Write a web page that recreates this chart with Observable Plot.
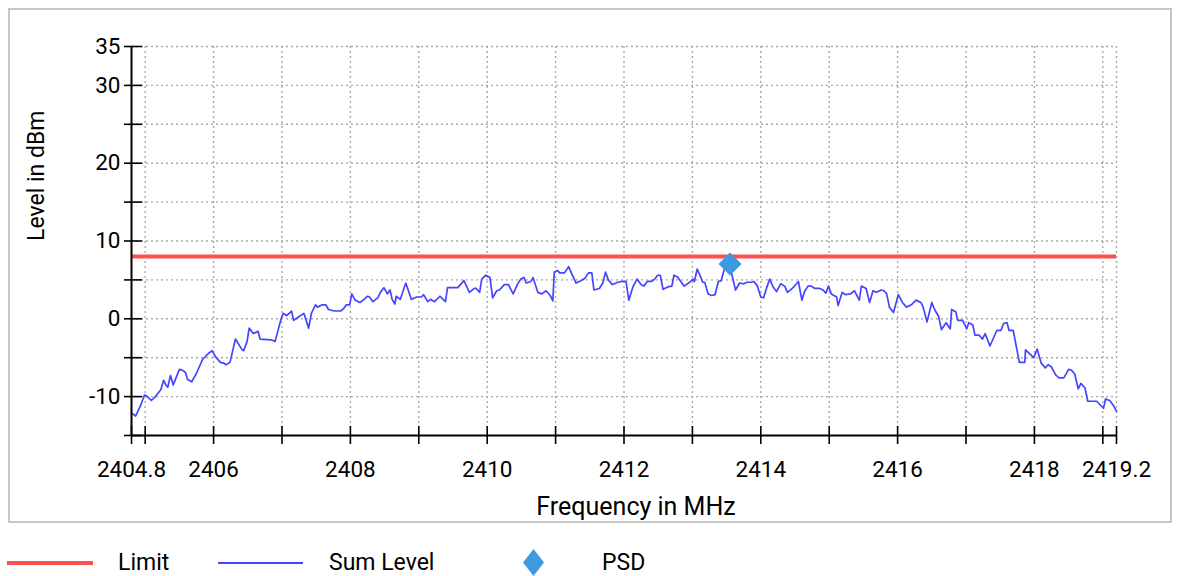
<!DOCTYPE html>
<html>
<head>
<meta charset="utf-8">
<script src="https://cdn.jsdelivr.net/npm/d3@7"></script>
<script src="https://cdn.jsdelivr.net/npm/@observablehq/plot@0.6"></script>
<style>
  html, body { margin: 0; padding: 0; background: #fff; }
  body { width: 1181px; height: 576px; position: relative; overflow: hidden; font-family: Roboto, "Liberation Sans", Arial, sans-serif; }
  #frame { position: absolute; left: 8px; top: 8px; width: 1160px; height: 511px; border: 2px solid #c6c6c6; }
  .lg { position: absolute; }
  .lgtext { position: absolute; top: 549px; line-height: 28px; font-size: 23px; color: #000; white-space: nowrap; }
</style>
</head>
<body>
<div id="frame"></div>
<div class="lg" style="left:7px; top:561px; width:86px; height:4px; background:#ff4f4f;"></div>
<div class="lgtext" style="left:118px;">Limit</div>
<div class="lg" style="left:218px; top:562px; width:85px; height:2px; background:#4545ff;"></div>
<div class="lgtext" style="left:329px;">Sum Level</div>
<svg class="lg" style="left:523px; top:549px;" width="21" height="27"><polygon points="10.5,0 21,13.5 10.5,27 0,13.5" fill="#3c9ae0"/></svg>
<div class="lgtext" style="left:602px;">PSD</div>
<script>
// ---- data ----
const freq = [
2404.80,2404.86,2404.93,2404.99,2405.02,2405.09,2405.16,2405.23,2405.27,2405.30,
2405.33,2405.37,2405.41,2405.50,2405.54,2405.59,2405.62,2405.68,2405.75,2405.84,
2405.93,2405.98,2406.03,2406.10,2406.15,2406.18,2406.24,2406.32,2406.41,2406.44,
2406.49,2406.52,2406.58,2406.65,2406.68,2406.84,2406.90,2406.99,2407.02,2407.07,
2407.14,2407.17,2407.25,2407.32,2407.39,2407.43,2407.49,2407.52,2407.59,2407.64,
2407.68,2407.76,2407.86,2407.90,2407.94,2407.99,2408.02,2408.07,2408.14,2408.20,
2408.25,2408.28,2408.33,2408.40,2408.44,2408.49,2408.54,2408.58,2408.61,2408.65,
2408.67,2408.73,2408.81,2408.89,2408.97,2409.04,2409.07,2409.13,2409.17,2409.23,
2409.31,2409.39,2409.42,2409.57,2409.66,2409.74,2409.81,2409.84,2409.89,2409.92,
2409.98,2410.04,2410.08,2410.14,2410.18,2410.25,2410.31,2410.38,2410.44,2410.49,
2410.54,2410.57,2410.64,2410.67,2410.74,2410.80,2410.86,2410.92,2410.96,2410.98,
2411.03,2411.06,2411.13,2411.19,2411.24,2411.30,2411.37,2411.43,2411.48,2411.53,
2411.56,2411.64,2411.69,2411.73,2411.77,2411.83,2411.91,2411.97,2412.03,2412.07,
2412.13,2412.19,2412.25,2412.29,2412.34,2412.40,2412.45,2412.49,2412.53,2412.57,
2412.64,2412.70,2412.73,2412.78,2412.83,2412.88,2412.96,2413.01,2413.03,2413.07,
2413.12,2413.15,2413.18,2413.23,2413.28,2413.33,2413.38,2413.42,2413.47,2413.55,
2413.63,2413.69,2413.75,2413.80,2413.86,2413.90,2413.95,2414.00,2414.04,2414.09,
2414.13,2414.18,2414.23,2414.29,2414.35,2414.39,2414.46,2414.55,2414.60,2414.64,
2414.69,2414.74,2414.79,2414.86,2414.91,2414.95,2414.99,2415.03,2415.11,2415.13,
2415.19,2415.24,2415.31,2415.37,2415.44,2415.47,2415.54,2415.59,2415.64,2415.69,
2415.76,2415.80,2415.84,2415.88,2415.94,2416.01,2416.07,2416.13,2416.20,2416.27,
2416.34,2416.37,2416.43,2416.50,2416.54,2416.60,2416.64,2416.71,2416.77,2416.79,
2416.85,2416.88,2416.95,2417.01,2417.04,2417.10,2417.13,2417.19,2417.24,2417.28,
2417.35,2417.45,2417.51,2417.55,2417.60,2417.63,2417.69,2417.78,2417.86,2417.87,
2417.99,2418.04,2418.10,2418.16,2418.20,2418.25,2418.31,2418.36,2418.43,2418.50,
2418.54,2418.59,2418.64,2418.68,2418.74,2418.78,2418.91,2419.01,2419.04,2419.10,
2419.16,2419.20
];
const level = [
-12.1,-12.5,-11.2,-9.8,-9.9,-10.5,-9.9,-9.1,-7.9,-8.5,
-8.8,-7.3,-8.5,-6.5,-6.6,-6.9,-7.8,-8.1,-7.0,-5.2,
-4.4,-4.1,-4.9,-5.6,-5.7,-5.9,-5.6,-2.6,-3.9,-4.1,
-2.9,-1.2,-1.9,-1.6,-2.6,-2.7,-2.9,0.1,0.7,0.4,
1.0,-0.2,0.3,0.7,-1.2,0.7,1.8,1.5,1.8,1.8,
1.2,1.0,1.0,1.3,1.8,1.8,3.2,2.4,2.1,2.5,
2.9,2.8,2.2,2.7,3.4,4.0,3.2,3.7,2.5,1.9,
2.9,2.5,4.6,2.5,2.8,2.8,3.1,2.2,2.5,2.2,
2.9,2.2,4.0,4.0,4.9,3.4,3.9,3.9,3.4,5.1,
5.6,5.3,2.7,3.6,3.7,4.4,4.4,3.2,4.4,5.1,
5.3,4.6,4.8,5.3,3.4,3.2,3.6,3.0,2.3,6.0,
6.2,5.9,5.9,6.7,5.7,4.6,4.9,5.2,5.9,5.9,
3.7,3.9,4.6,6.0,5.0,4.4,4.7,4.8,4.8,2.4,
4.1,5.1,4.4,4.2,4.8,4.8,5.1,5.6,5.6,3.8,
4.1,4.2,5.6,5.4,4.8,4.2,4.7,5.1,4.8,6.4,
5.4,4.7,4.7,3.2,3.0,3.1,4.8,4.9,6.5,6.7,
3.7,4.6,4.5,4.7,4.7,4.8,4.2,2.8,2.7,4.1,
5.1,4.1,3.5,4.5,4.2,3.4,3.9,4.8,2.4,3.5,
4.2,4.2,3.9,3.9,3.7,3.3,4.2,3.2,2.8,1.7,
3.4,3.1,3.2,3.6,2.4,4.2,3.9,2.1,3.6,3.4,
3.7,3.6,3.2,1.5,0.8,3.1,2.1,1.5,1.8,2.4,
2.1,1.6,-0.4,2.1,1.2,0.3,-1.4,-0.5,-1.3,1.2,
0.9,-0.2,-0.2,-1.3,-0.5,-0.8,-2.1,-2.1,-2.6,-1.9,
-3.5,-1.5,-1.5,-0.6,-0.5,-1.5,-1.5,-5.6,-5.6,-4.0,
-5.0,-3.9,-5.7,-6.3,-5.9,-6.2,-7.2,-7.6,-7.6,-6.5,
-6.6,-7.1,-9.0,-8.3,-8.9,-10.6,-10.6,-11.5,-10.3,-10.5,
-11.2,-11.9
];
const limitLevel = [8];
const psdFreq = [2413.55];
const psdLevel = [7.05];
const xTicks = [2404.8,2405,2406,2407,2408,2409,2410,2411,2412,2413,2414,2415,2416,2417,2418,2419,2419.2];
const xLabels = [2404.8,2406,2408,2410,2412,2414,2416,2418,2419.2];
const xGrid = [2405,2406,2407,2408,2409,2410,2411,2412,2413,2414,2415,2416,2417,2418,2419,2419.2];
const yTicks = [-15,-10,-5,0,5,10,15,20,25,30,35];
const yLabels = [-10,0,10,20,30,35];
const yGrid = [-10,-5,0,5,10,15,20,25,30,35];
const xTitle = "Frequency in MHz";
const yTitle = "Level in dBm";

const sumData = freq.map((f, i) => ({f, l: level[i]}));
const psdData = psdFreq.map((f, i) => ({f, l: psdLevel[i]}));
const fmt = d => String(d);
const gridStyle = {stroke: "#a8a8a8", strokeOpacity: 1, strokeWidth: 1.4, strokeDasharray: "2,3"};

const chart = Plot.plot({
  width: 1160,
  height: 511,
  marginLeft: 121,
  marginRight: 54,
  marginTop: 36,
  marginBottom: 86,
  x: {domain: [2404.8, 2419.2]},
  y: {domain: [-15, 35]},
  style: {fontFamily: "Roboto, 'Liberation Sans', Arial, sans-serif", fontSize: "22.5px", background: "transparent", overflow: "visible", color: "#000"},
  marks: [
    Plot.gridX(xGrid, gridStyle),
    Plot.gridY(yGrid, gridStyle),
    Plot.ruleY(limitLevel, {stroke: "#ff4f4f", strokeWidth: 4}),
    Plot.line(sumData, {x: "f", y: "l", stroke: "#4545ff", strokeWidth: 1.7}),
    Plot.dot(psdData, {x: "f", y: "l", symbol: "diamond2", r: 10.4, fill: "#3c9ae0", stroke: "none"}),
    Plot.ruleX([2404.8], {stroke: "#000", strokeWidth: 2}),
    Plot.ruleY([-15], {stroke: "#000", strokeWidth: 2}),
    Plot.axisX(xTicks, {tickSize: 18, dy: -9, tickFormat: () => "", stroke: "#000", strokeWidth: 1.6, label: null}),
    Plot.axisX(xLabels, {tickSize: 0, tickPadding: 26, tickFormat: fmt, fontSize: 22.5, label: null}),
    Plot.axisY(yTicks, {tickSize: 18, dx: 11, tickFormat: () => "", stroke: "#000", strokeWidth: 1.6, label: null}),
    Plot.axisY(yLabels, {tickSize: 0, tickPadding: 11, tickFormat: fmt, fontSize: 22.5, label: null}),
    Plot.text([xTitle], {frameAnchor: "bottom", dx: 12, dy: 79, fontSize: 25}),
    Plot.text([yTitle], {frameAnchor: "left", rotate: -90, dx: -95, fontSize: 23})
  ]
});
document.getElementById("frame").appendChild(chart);
</script>
</body>
</html>
